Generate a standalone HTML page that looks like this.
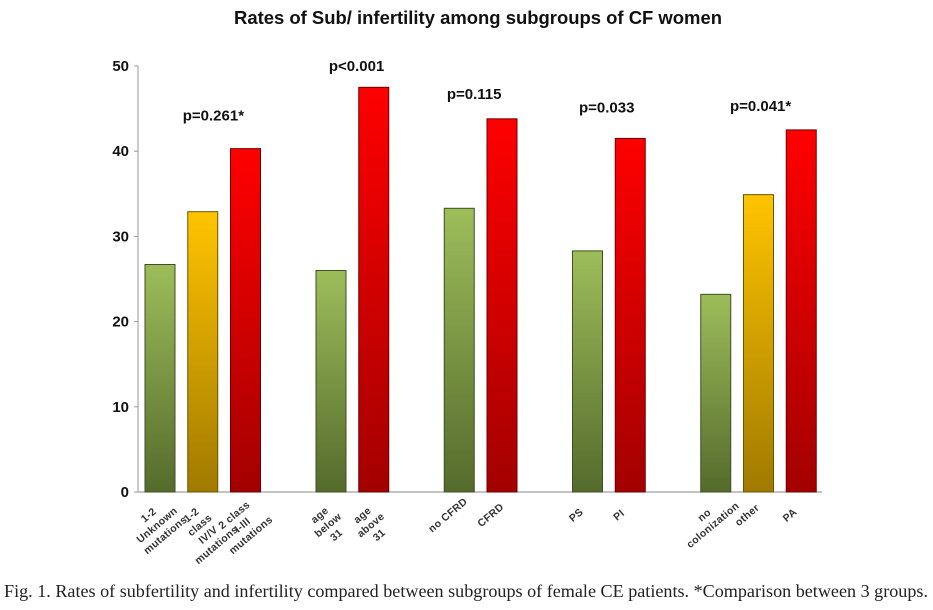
<!DOCTYPE html>
<html><head><meta charset="utf-8"><style>
body{margin:0;background:#fff;width:933px;height:610px;overflow:hidden}
svg{display:block}
</style></head><body>
<svg id="chart" width="933" height="610" xmlns="http://www.w3.org/2000/svg">
<defs>
<linearGradient id="gGreen" x1="0" y1="0" x2="0" y2="1"><stop offset="0" stop-color="#9dbd5a"/><stop offset="1" stop-color="#556b2c"/></linearGradient>
<linearGradient id="gYellow" x1="0" y1="0" x2="0" y2="1"><stop offset="0" stop-color="#ffc400"/><stop offset="1" stop-color="#a07a00"/></linearGradient>
<linearGradient id="gRed" x1="0" y1="0" x2="0" y2="1"><stop offset="0" stop-color="#ff0000"/><stop offset="1" stop-color="#a30000"/></linearGradient>
</defs>
<text x="478" y="24" text-anchor="middle" font-family="Liberation Sans, sans-serif" font-weight="bold" font-size="18" fill="#111" textLength="488" lengthAdjust="spacingAndGlyphs">Rates of Sub/ infertility among subgroups of CF women</text>
<g id="axes"></g>
<g id="bars"></g>
<g id="labels"></g>
<text x="4" y="597" font-family="Liberation Serif, serif" font-size="18" fill="#222" textLength="924" lengthAdjust="spacingAndGlyphs">Fig. 1. Rates of subfertility and infertility compared between subgroups of female CE patients. *Comparison between 3 groups.</text>
</svg>
<script>
const categories=[["1-2","Unknown","mutations"],["1-2","class","IV/V","mutations"],["2 class","I-III","mutations"],["age","below","31"],["age","above","31"],["no CFRD"],["CFRD"],["PS"],["PI"],["no","colonization"],["other"],["PA"]];
const values=[26.7,32.9,40.3,26.0,47.5,33.3,43.8,28.3,41.5,23.2,34.9,42.5];
const colors=["green","yellow","red","green","red","green","red","green","red","green","yellow","red"];
const slots=[0,1,2,4,5,7,8,10,11,13,14,15];
const yTicks=[0,10,20,30,40,50];
const pLabels=["p=0.261*","p<0.001","p=0.115","p=0.033","p=0.041*"];
const pValuesY=[44.2,50,46.7,45.1,45.3];
const pSlotX=[1.6,4.95,7.7,10.8,14.4];

const NS="http://www.w3.org/2000/svg";
const x0=138,x1=822,slotW=(x1-x0)/16,barW=30;
const yb=492,yt=66;
const y=v=>yb-(v/50)*(yb-yt);
const xs=s=>x0+7+s*slotW;
function mk(tag,attrs,parent){const e=document.createElementNS(NS,tag);for(const k in attrs)e.setAttribute(k,attrs[k]);parent.appendChild(e);return e;}
const axes=document.getElementById('axes'),bars=document.getElementById('bars'),labels=document.getElementById('labels');
let ax=mk('line',{x1:x0,y1:yt,x2:x0,y2:yb,stroke:'#999','stroke-width':1},axes);


let bx=mk('line',{x1:x0-4,y1:yb,x2:x1,y2:yb,stroke:'#888','stroke-width':1},axes);


yTicks.forEach(t=>{
  let tk=mk('line',{x1:x0-4,y1:y(t),x2:x0,y2:y(t),stroke:'#999'},axes);
  
  
  let tl=mk('text',{x:x0-9,y:y(t)+5,'text-anchor':'end','font-family':'Liberation Sans, sans-serif','font-weight':'bold','font-size':15,fill:'#111'},axes);
  tl.textContent=t;
  
  
});
const fills={green:'url(#gGreen)',yellow:'url(#gYellow)',red:'url(#gRed)'};
const strokes={green:'#3f4f20',yellow:'#6b5200',red:'#6d0000'};
values.forEach((v,i)=>{
  const bx0=xs(slots[i]);
  let r=mk('rect',{x:bx0,y:y(v),width:barW,height:yb-y(v),fill:fills[colors[i]],stroke:strokes[colors[i]],'stroke-width':1},bars);
  
  
  const g=mk('g',{transform:`translate(${bx0+barW/2},${yb+18}) rotate(-40)`},labels);
  
  
  categories[i].forEach((ln,j)=>{
    const t=mk('text',{x:-12,y:j*13,'text-anchor':'middle','font-family':'Liberation Sans, sans-serif','font-weight':'bold','font-size':10.5,'letter-spacing':0.3,fill:'#333'},g);
    t.textContent=ln;
  });
});
pLabels.forEach((p,i)=>{
  let t=mk('text',{x:x0+7+pSlotX[i]*slotW,y:y(pValuesY[i])+5,'text-anchor':'middle','font-family':'Liberation Sans, sans-serif','font-weight':'bold','font-size':15,fill:'#111'},labels);
  t.textContent=p;
  
  
});
</script>
</body></html>
